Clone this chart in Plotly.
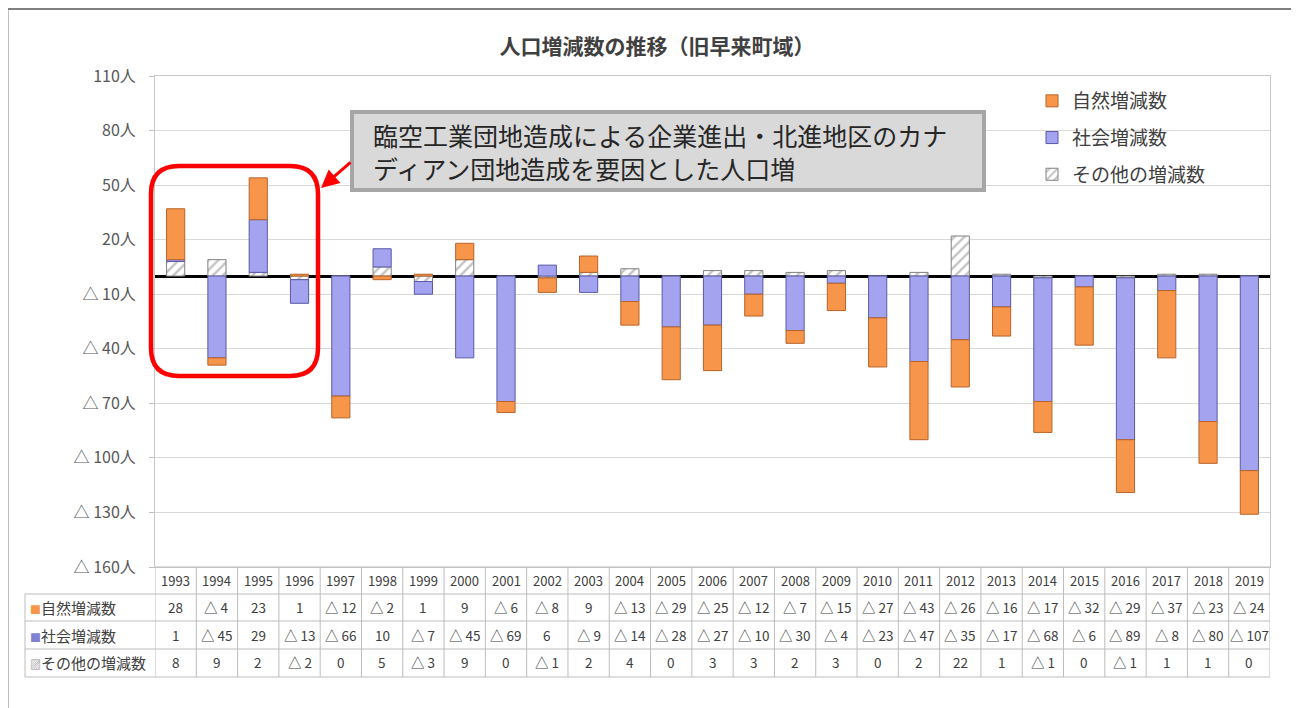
import plotly.graph_objects as go

# page body has an 8px margin, so the figure is drawn 8px in and sized to fit
OFF = 8
W, H = 1299 - OFF, 708 - OFF
FONT = "Noto Sans CJK JP"

years = ["1993", "1994", "1995", "1996", "1997", "1998", "1999", "2000", "2001",
         "2002", "2003", "2004", "2005", "2006", "2007", "2008", "2009", "2010",
         "2011", "2012", "2013", "2014", "2015", "2016", "2017", "2018", "2019"]
natural = [28, -4, 23, 1, -12, -2, 1, 9, -6, -8, 9, -13, -29, -25, -12, -7, -15,
           -27, -43, -26, -16, -17, -32, -29, -37, -23, -24]
social = [1, -45, 29, -13, -66, 10, -7, -45, -69, 6, -9, -14, -28, -27, -10, -30,
          -4, -23, -47, -35, -17, -68, -6, -89, -8, -80, -107]
other = [8, 9, 2, -2, 0, 5, -3, 9, 0, -1, 2, 4, 0, 3, 3, 2, 3, 0, 2, 22, 1, -1,
         0, -1, 1, 1, 0]
series_names = ["自然増減数", "社会増減数", "その他の増減数"]
tick_vals = [110, 80, 50, 20, -10, -40, -70, -100, -130, -160]
tick_text = ["110人", "80人", "50人", "20人", "△ 10人", "△ 40人", "△ 70人",
             "△ 100人", "△ 130人", "△ 160人"]
title_text = "人口増減数の推移（旧早来町域）"
note_text = "臨空工業団地造成による企業進出・北進地区のカナ<br>ディアン団地造成を要因とした人口増"

ORANGE = "#F7964A"
BLUE = "#A3A3F0"


def px(x):
    return (x - OFF) / W


def py(y):
    return 1 - (y - OFF) / H


def fmt(v):
    return f"△ {abs(v)}" if v < 0 else str(v)


fig = go.Figure()
# stacking order: other (nearest zero), social, natural
fig.add_bar(x=years, y=other, name=series_names[2], legendgroup="c", legendrank=3,
            marker=dict(color="white", line=dict(color="#808080", width=1),
                        pattern=dict(shape="/", fgcolor="#8c8c8c", bgcolor="white",
                                     size=7, solidity=0.35)),
            width=0.44)
fig.add_bar(x=years, y=social, name=series_names[1], legendgroup="b", legendrank=2,
            marker=dict(color=BLUE, line=dict(color="#5a5aa8", width=1)),
            width=0.44)
fig.add_bar(x=years, y=natural, name=series_names[0], legendgroup="a", legendrank=1,
            marker=dict(color=ORANGE, line=dict(color="#b8632a", width=1)),
            width=0.44)

X0, X1 = 155, 1270
Y_TOP, Y_BOT = 76, 567

fig.update_layout(
    width=W, height=H, autosize=False,
    margin=dict(l=0, r=0, t=0, b=0, autoexpand=False),
    paper_bgcolor="white", plot_bgcolor="white",
    barmode="relative",
    font=dict(family=FONT, color="#404040"),
    title=dict(text=title_text, x=px(657), y=py(47), xanchor="center",
               yanchor="middle", xref="paper", yref="paper", automargin=False,
               font=dict(size=21, family=FONT, color="#404040", weight="bold")),
    showlegend=True,
    legend=dict(x=px(1032), y=py(82), xanchor="left", yanchor="top",
                traceorder="grouped", tracegroupgap=9,
                font=dict(size=19, color="#404040"), bgcolor="rgba(0,0,0,0)"),
    xaxis=dict(domain=[px(X0), px(X1)], type="category", range=[-0.5, 26.5],
               automargin=False,
               showticklabels=False, showgrid=False, showline=True, mirror=True,
               linecolor="#c8c8c8", linewidth=1, ticks=""),
    yaxis=dict(domain=[py(Y_BOT), py(Y_TOP)], range=[-160, 110], automargin=False,
               tickvals=tick_vals, ticktext=tick_text, ticks="outside", ticklen=5,
               ticklabelstandoff=10,
               tickcolor="#bfbfbf", showgrid=True, gridcolor="#d9d9d9",
               gridwidth=1, showline=True, mirror=True, linecolor="#c8c8c8",
               zeroline=True, zerolinecolor="black", zerolinewidth=2.5,
               tickfont=dict(size=16, color="#595959")),
)

shapes = []
annotations = []

# outer frame
shapes.append(dict(type="rect", xref="paper", yref="paper", x0=px(7.5), x1=px(1297),
                   y0=py(760), y1=py(9), line=dict(color="#7f7f7f", width=2),
                   layer="below"))

# table grid
LINE = dict(color="#bdbdbd", width=1)
row_lines = [567, 594, 621, 649, 677]
for i, yy in enumerate(row_lines):
    xs = X0 if i == 0 else 25
    shapes.append(dict(type="line", xref="paper", yref="paper", x0=px(xs), x1=px(X1),
                       y0=py(yy), y1=py(yy), line=LINE))
shapes.append(dict(type="line", xref="paper", yref="paper", x0=px(25), x1=px(25),
                   y0=py(594), y1=py(677), line=LINE))
for k in range(len(years) + 1):
    shapes.append(dict(type="line", xref="x", yref="paper", x0=k - 0.5, x1=k - 0.5,
                       y0=py(567), y1=py(677), line=LINE))

row_centers = [580, 607, 635, 662]
for i, yr in enumerate(years):
    annotations.append(dict(x=i, y=py(row_centers[0]), xref="x", yref="paper",
                            yanchor="middle", text=yr, showarrow=False,
                            font=dict(size=13, color="#404040")))
    for r, data in enumerate([natural, social, other]):
        annotations.append(dict(x=i, y=py(row_centers[r + 1]), xref="x",
                                yref="paper", yanchor="middle", text=fmt(data[i]),
                                showarrow=False,
                                font=dict(size=13.5, color="#404040")))

label_marks = [f"<span style='color:{ORANGE}'>■</span>",
               f"<span style='color:#8080d0'>■</span>",
               "<span style='color:#909090'>▨</span>"]
for r in range(3):
    annotations.append(dict(x=px(28), y=py(row_centers[r + 1]), xref="paper",
                            yref="paper", xanchor="left", yanchor="middle",
                            showarrow=False,
                            text=f"<span style='font-size:11px'>{label_marks[r]}</span>{series_names[r]}",
                            font=dict(size=15, color="#404040")))

# note box
shapes.append(dict(type="rect", xref="paper", yref="paper", x0=px(352), x1=px(984),
                   y0=py(190), y1=py(112), fillcolor="#d9d9d9",
                   line=dict(color="#a6a6a6", width=4)))
annotations.append(dict(x=px(371), y=py(151), xref="paper", yref="paper",
                        xanchor="left", yanchor="middle", align="left",
                        text=note_text, showarrow=False,
                        font=dict(size=25, color="#262626", family=FONT)))

# red rounded rectangle
L, R, T, B, rad = 151, 318, 166, 376, 28
rx, ry = rad / W, rad / H
path = (f"M {px(L)+rx},{py(T)} L {px(R)-rx},{py(T)} "
        f"Q {px(R)},{py(T)} {px(R)},{py(T)-ry} "
        f"L {px(R)},{py(B)+ry} Q {px(R)},{py(B)} {px(R)-rx},{py(B)} "
        f"L {px(L)+rx},{py(B)} Q {px(L)},{py(B)} {px(L)},{py(B)+ry} "
        f"L {px(L)},{py(T)-ry} Q {px(L)},{py(T)} {px(L)+rx},{py(T)} Z")
shapes.append(dict(type="path", xref="paper", yref="paper", path=path,
                   line=dict(color="#ff0000", width=4.5)))

# arrow
annotations.append(dict(x=px(321), y=py(188), xref="paper", yref="paper",
                        ax=31, ay=-27, text="", showarrow=True, arrowhead=2,
                        arrowsize=1.2, arrowwidth=3, arrowcolor="#ff0000"))

fig.update_layout(shapes=shapes, annotations=annotations)
fig.write_html("out.html")
